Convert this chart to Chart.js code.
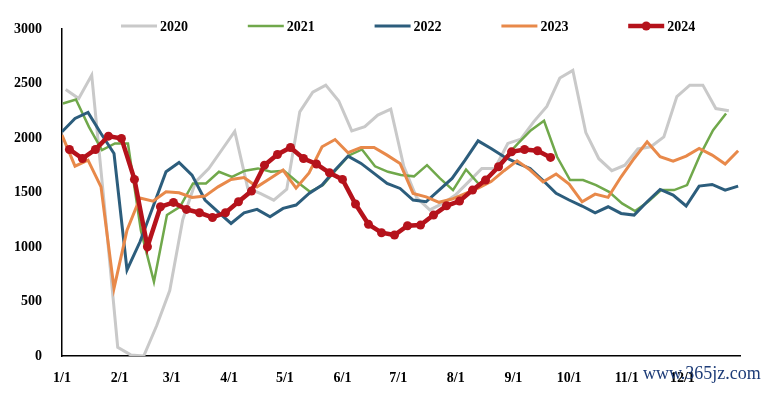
<!DOCTYPE html>
<html>
<head>
<meta charset="utf-8">
<script src="https://cdn.jsdelivr.net/npm/chart.js@4.4.1/dist/chart.umd.min.js"></script>
<style>
html,body{margin:0;padding:0;background:#fff;}
#wrap{position:relative;width:766px;height:394px;}
#mark{position:absolute;left:643px;top:363px;font:18px 'Liberation Serif',serif;color:#1d3c78;}
</style>
</head>
<body>
<div id="wrap">
  <canvas id="myChart" width="766" height="394"></canvas>
  <div id="mark">www.365jz.com</div>
</div>
<script>
// month ticks (day of year where each month starts)
var monthLabels = ['1/1','2/1','3/1','4/1','5/1','6/1','7/1','8/1','9/1','10/1','11/1','12/1']
var monthDays = [0,31,59,90,120,151,181,212,243,273,304,334]
var yTicks = [0,500,1000,1500,2000,2500,3000]

var years = ['2020','2021','2022','2023','2024']
// first observation day of each year, data is weekly after that
var startDay = [2, 0.5, 0, 0, 4]

var v2020 = [2445,2362,2577,1350,80,10,0,280,600,1250,1600,1720,1890,2060,1540,1490,1430,1530,2240,2420,
  2485,2340,2065,2105,2210,2265,1740,1450,1340,1400,1480,1600,1720,1720,1950,1990,2150,2290,2550,2620,
  2050,1810,1700,1750,1900,1920,2010,2380,2485,2485,2270,2250]
var v2021 = [2317,2353,2102,1889,1950,1950,1150,681,1293,1369,1583,1583,1690,1644,1700,1721,1690,1700,1598,1506,
  1568,1706,1840,1895,1740,1690,1660,1648,1751,1630,1522,1711,1575,1680,1820,1950,2072,2158,1828,1614,
  1614,1568,1506,1400,1330,1415,1522,1522,1568,1843,2072,2225]
var v2022 = [2057,2180,2234,2041,1858,789,1048,1369,1690,1775,1660,1431,1323,1216,1314,1345,1277,1354,1385,1492,
  1568,1706,1834,1767,1675,1583,1537,1431,1415,1522,1629,1797,1974,1904,1828,1770,1721,1610,1492,1431,
  1376,1314,1369,1308,1293,1415,1528,1476,1376,1559,1574,1522,1559]
var v2023 = [2027,1742,1797,1552,620,1155,1450,1420,1506,1497,1455,1467,1552,1620,1638,1552,1629,1706,1540,1680,
  1920,1986,1865,1913,1913,1843,1767,1492,1460,1410,1440,1490,1540,1600,1700,1790,1706,1598,1669,1577,
  1415,1485,1455,1644,1812,1965,1828,1788,1834,1904,1843,1761,1883]
var v2024 = [1895,1812,1895,2017,1996,1620,1002,1369,1409,1345,1314,1271,1314,1415,1513,1751,1849,1913,1812,1761,
  1681,1620,1394,1208,1131,1110,1195,1201,1293,1378,1421,1522,1614,1736,1873,1895,1883,1822]

var allValues = [v2020, v2021, v2022, v2023, v2024]
var colors = ['#c9c9c9','#70a84b','#2c5d7c','#e8894a','#b5121b']
var widths = [3, 2.5, 3, 3, 4.5]

var serif = '"Liberation Serif", "Times New Roman", serif'

function weekly(values, start){
    return values.map((v, i) => ({x: start + 7 * i, y: v}))
}

var datasets = years.map((y, i) => ({
    label: y,
    data: weekly(allValues[i], startDay[i]),
    borderColor: colors[i],
    backgroundColor: colors[i],
    borderWidth: widths[i],
    pointRadius: y === '2024' ? 4.5 : 0,
    pointBorderWidth: 0,
    lineTension: 0,
    order: years.length - 1 - i
}))

// legend: line sample + bold year, drawn across the top
var topLegend = {
    id: 'topLegend',
    afterDraw(chart){
        var ctx = chart.ctx
        ctx.save()
        ctx.font = 'bold 14px ' + serif
        ctx.textBaseline = 'middle'
        chart.data.datasets.forEach((ds, i) => {
            var x = 121 + i * 126.8, y = 26
            ctx.strokeStyle = ds.borderColor
            ctx.lineWidth = ds.borderWidth
            ctx.beginPath()
            ctx.moveTo(x, y)
            ctx.lineTo(x + 36, y)
            ctx.stroke()
            if (ds.pointRadius) {
                ctx.fillStyle = ds.borderColor
                ctx.beginPath()
                ctx.arc(x + 18, y, ds.pointRadius, 0, Math.PI * 2)
                ctx.fill()
            }
            ctx.fillStyle = '#000'
            ctx.fillText(ds.label, x + 39, y + 1)
        })
        ctx.restore()
    }
}

var ctx = document.getElementById('myChart').getContext('2d')
new Chart(ctx, {
    type: 'line',
    data: { datasets: datasets },
    options: {
        responsive: false,
        animation: false,
        devicePixelRatio: 1,
        layout: { padding: { top: 29, right: 26, left: 0, bottom: 0 } },
        plugins: { legend: { display: false }, tooltip: { enabled: false } },
        scales: {
            x: {
                type: 'linear',
                min: 0,
                max: 365,
                afterBuildTicks: axis => { axis.ticks = monthDays.map(d => ({value: d})) },
                afterFit: axis => { axis.height = 38 },
                grid: { display: false },
                border: { color: '#000', width: 1.5 },
                ticks: {
                    autoSkip: false,
                    maxRotation: 0,
                    padding: 6,
                    color: '#000',
                    font: { family: serif, size: 14, weight: 'bold' },
                    callback: v => monthLabels[monthDays.indexOf(v)]
                }
            },
            y: {
                min: 0,
                max: 3000,
                afterBuildTicks: axis => { axis.ticks = yTicks.map(v => ({value: v})) },
                afterFit: axis => { axis.width = 62 },
                grid: { display: false },
                border: { color: '#000', width: 1.5 },
                ticks: {
                    padding: 12,
                    color: '#000',
                    font: { family: serif, size: 14, weight: 'bold' },
                    callback: v => String(v)
                }
            }
        }
    },
    plugins: [topLegend]
})
</script>
</body>
</html>
